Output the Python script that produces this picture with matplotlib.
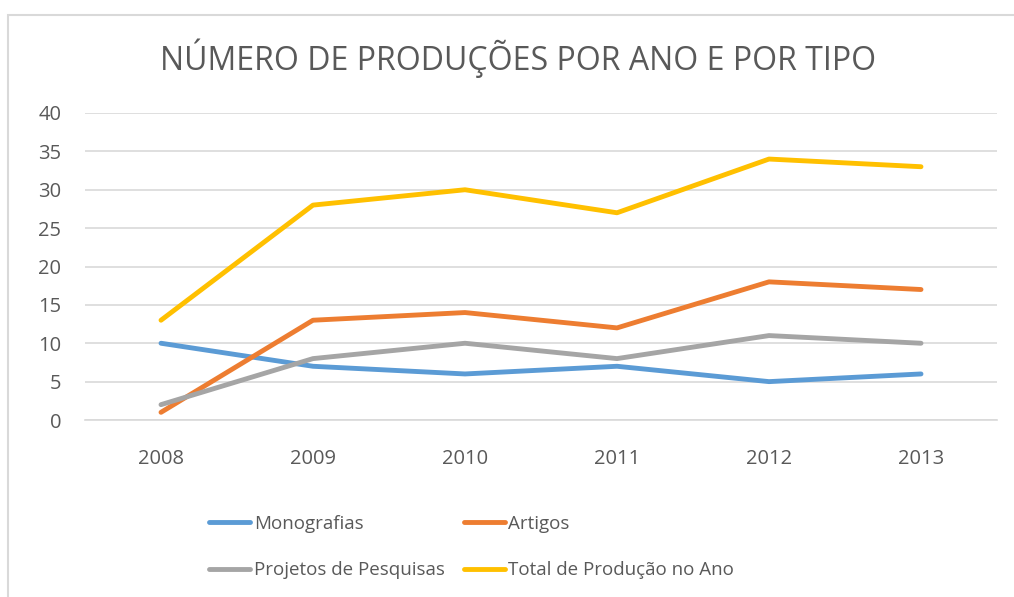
import matplotlib.pyplot as plt
from matplotlib.patches import Rectangle

years = ['2008', '2009', '2010', '2011', '2012', '2013']
monografias = [10, 7, 6, 7, 5, 6]
artigos = [1, 13, 14, 12, 18, 17]
projetos = [2, 8, 10, 8, 11, 10]
total = [13, 28, 30, 27, 34, 33]

plt.rcParams['font.family'] = ['Open Sans', 'DejaVu Sans']
txt = '#595959'

fig = plt.figure(figsize=(10.14, 5.97), dpi=100)
fig.patches.append(Rectangle((8 / 1014, -0.1), 1.2, 1 - 15 / 597 + 0.1,
                             transform=fig.transFigure, fill=False,
                             edgecolor='#d9d9d9', linewidth=1.5))
ax = fig.add_axes([85 / 1014, 1 - 420 / 597, 912 / 1014, 307 / 597])

x = range(len(years))
l1, = ax.plot(x, monografias, color='#5b9bd5', lw=3.5, label='Monografias', solid_capstyle='round')
l2, = ax.plot(x, artigos, color='#ed7d31', lw=3.5, label='Artigos', solid_capstyle='round')
l3, = ax.plot(x, projetos, color='#a5a5a5', lw=3.5, label='Projetos de Pesquisas', solid_capstyle='round')
l4, = ax.plot(x, total, color='#ffc000', lw=3.5, label='Total de Produção no Ano', solid_capstyle='round')

ax.set_xlim(-0.5, 5.5)
ax.set_ylim(0, 40)
ax.set_yticks(range(0, 41, 5))
ax.set_xticks(list(x))
ax.set_xticklabels(years)
ax.grid(axis='y', color='#d9d9d9', lw=1.2)
ax.set_axisbelow(True)
for s in ['top', 'right', 'left']:
    ax.spines[s].set_visible(False)
ax.spines['bottom'].set_color('#d9d9d9')
ax.spines['bottom'].set_linewidth(1.2)
ax.tick_params(length=0, labelsize=14.5, colors=txt)
ax.tick_params(axis='x', pad=21)
ax.tick_params(axis='y', pad=17)

fig.text(518 / 1014, 1 - 58 / 597, 'NÚMERO DE PRODUÇÕES POR ANO E POR TIPO',
         ha='center', va='center', fontsize=23, color=txt)

fig.legend([l1, l3, l2, l4], [h.get_label() for h in [l1, l3, l2, l4]],
           loc='center left', bbox_to_anchor=(192 / 1014, 1 - 547 / 597), ncol=2,
           frameon=False, fontsize=13.5, labelcolor=txt, handlelength=2.2,
           handletextpad=0.2, columnspacing=1.0, labelspacing=1.5)

fig.savefig('out.png', dpi=100)
